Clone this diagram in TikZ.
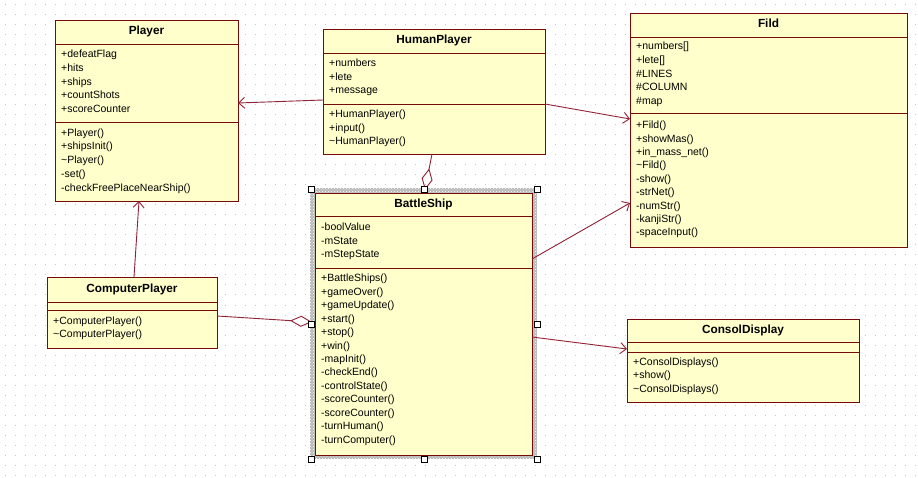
\documentclass[tikz,border=0pt]{standalone}
\usepackage{fontspec}
\setmainfont{Liberation Sans}
\usetikzlibrary{arrows.meta,patterns}

\definecolor{boxfill}{RGB}{255,255,204}
\definecolor{boxline}{RGB}{120,10,10}
\definecolor{linkcol}{RGB}{145,35,55}
\definecolor{griddot}{RGB}{200,200,200}

\tikzset{
  classbox/.style={draw=boxline, fill=boxfill, line width=0.9pt, rectangle,
    inner sep=0pt, outer sep=0pt, anchor=north west},
  classline/.style={draw=boxline, line width=0.9pt},
  classtitle/.style={inner sep=0pt, font=\fontsize{11.8}{13}\selectfont\bfseries,
    text height=8pt, text depth=2pt},
  member/.style={anchor=west, inner sep=0pt, font=\fontsize{10.5}{12}\selectfont,
    text height=7.5pt, text depth=2pt},
  link/.style={draw=linkcol, line width=0.9pt},
  uses/.style={link, -{Straight Barb[length=6pt,width=11pt]}},
  aggr/.style={link, -{Diamond[open,length=22pt,width=11pt]}},
  handle/.style={draw=black, fill=white, line width=0.6pt}
}

\begin{document}
\begin{tikzpicture}[x=1pt,y=-1pt]
\useasboundingbox (0,0) rectangle (918,478);
\fill[white] (0,0) rectangle (918,478);

% dotted background grid
\foreach \j in {0,...,47}
  \draw[griddot, line width=1pt, dash pattern=on 1pt off 9pt] (4.5,5+10*\j) -- (918,5+10*\j);

% ---------- Player ----------
\node[classbox, minimum width=183pt, minimum height=181pt] (player) at (55,20) {};
\draw[classline] (55,44) -- (238,44);
\draw[classline] (55,122) -- (238,122);
\node[classtitle] (player-t) at (146.5,32) {Player};
\foreach \m [count=\i from 0] in {+defeatFlag,+hits,+ships,+countShots,+scoreCounter}
  \node[member] (player-a\i) at (61,55+13.7*\i) {\m};
\foreach \m [count=\i from 0] in {+Player(),+shipsInit(),\textasciitilde Player(),-set(),-checkFreePlaceNearShip()}
  \node[member] (player-o\i) at (61,133.5+13.7*\i) {\m};

% ---------- HumanPlayer ----------
\node[classbox, minimum width=222pt, minimum height=125pt] (human) at (323,29) {};
\draw[classline] (323,53) -- (545,53);
\draw[classline] (323,104) -- (545,104);
\node[classtitle] (human-t) at (434,41) {HumanPlayer};
\foreach \m [count=\i from 0] in {+numbers,+lete,+message}
  \node[member] (human-a\i) at (329,64+13.5*\i) {\m};
\foreach \m [count=\i from 0] in {+HumanPlayer(),+input(),\textasciitilde HumanPlayer()}
  \node[member] (human-o\i) at (329,115+13.3*\i) {\m};

% ---------- Fild ----------
\node[classbox, minimum width=277pt, minimum height=234pt] (fild) at (630,13) {};
\draw[classline] (630,37) -- (907,37);
\draw[classline] (630,113) -- (907,113);
\node[classtitle] (fild-t) at (768.5,24.5) {Fild};
\foreach \m [count=\i from 0] in {+numbers[],+lete[],\#LINES,\#COLUMN,\#map}
  \node[member] (fild-a\i) at (636,47+13.7*\i) {\m};
\foreach \m [count=\i from 0] in {+Fild(),+showMas(),+in\_mass\_net(),\textasciitilde Fild(),-show(),-strNet(),-numStr(),-kanjiStr(),-spaceInput()}
  \node[member] (fild-o\i) at (636,126+13.4*\i) {\m};

% ---------- BattleShip (selected) ----------
\fill[gray!55] (310,188) rectangle (537,459);
\fill[pattern=crosshatch dots, pattern color=white] (310,188) rectangle (537,459);
\node[classbox, minimum width=217pt, minimum height=262pt] (battle) at (315,193) {};
\draw[classline] (315,216) -- (532,216);
\draw[classline] (315,268) -- (532,268);
\node[classtitle] (battle-t) at (423.5,204.5) {BattleShip};
\foreach \m [count=\i from 0] in {-boolValue,-mState,-mStepState}
  \node[member] (battle-a\i) at (321,228+13.6*\i) {\m};
\foreach \m [count=\i from 0] in {+BattleShips(),+gameOver(),+gameUpdate(),+start(),+stop(),+win(),-mapInit(),-checkEnd(),-controlState(),-scoreCounter(),-scoreCounter(),-turnHuman(),-turnComputer()}
  \node[member] (battle-o\i) at (321,279+13.45*\i) {\m};

% ---------- ComputerPlayer ----------
\node[classbox, minimum width=170pt, minimum height=71pt] (computer) at (47,277) {};
\draw[classline] (47,302) -- (217,302);
\draw[classline] (47,310) -- (217,310);
\node[classtitle] (computer-t) at (132,289) {ComputerPlayer};
\foreach \m [count=\i from 0] in {+ComputerPlayer(),\textasciitilde ComputerPlayer()}
  \node[member] (computer-o\i) at (53,321.5+13.5*\i) {\m};

% ---------- ConsolDisplay ----------
\node[classbox, minimum width=232pt, minimum height=83pt] (consol) at (627,319) {};
\draw[classline] (627,342) -- (859,342);
\draw[classline] (627,352) -- (859,352);
\node[classtitle] (consol-t) at (743,330.5) {ConsolDisplay};
\foreach \m [count=\i from 0] in {+ConsolDisplays(),+show(),\textasciitilde ConsolDisplays()}
  \node[member] (consol-o\i) at (633,362.5+13.5*\i) {\m};

% ---------- connectors ----------
\draw[uses] ([yshift=-8.5pt]human.west) -- ([yshift=7.5pt]player.east);
\draw[uses] ([yshift=-12.5pt]human.east) -- ([yshift=11pt]fild.west);
\draw[uses] ([yshift=65pt]battle.east) -- ([yshift=-73pt]fild.west);
\draw[uses] ([yshift=-13pt]battle.east) -- ([yshift=11.5pt]consol.west);
\draw[uses] ([xshift=2pt]computer.north) -- ([xshift=-7.5pt]player.south);
\draw[aggr] ([yshift=-3.5pt]computer.east) -- ([xshift=-3pt,yshift=2pt]battle.west);
\draw[aggr] ([xshift=-2pt]human.south) -- ([xshift=1.5pt,yshift=3pt]battle.north);

% selection handles
\foreach \hx/\hy in {311/189,424/189,537/189,311/324,537/324,311/459,424/459,537/459}
  \filldraw[handle] (\hx-3,\hy-3) rectangle (\hx+3,\hy+3);
\end{tikzpicture}
\end{document}
